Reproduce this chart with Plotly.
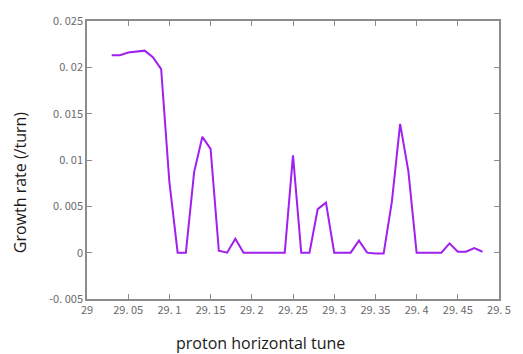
import plotly.graph_objects as go

tune = [29.03, 29.04, 29.05, 29.06, 29.07, 29.08, 29.09, 29.10, 29.11, 29.12,
        29.13, 29.14, 29.15, 29.16, 29.17, 29.18, 29.19, 29.20, 29.21, 29.22,
        29.23, 29.24, 29.25, 29.26, 29.27, 29.28, 29.29, 29.30, 29.31, 29.32,
        29.33, 29.34, 29.35, 29.36, 29.37, 29.38, 29.39, 29.40, 29.41, 29.42,
        29.43, 29.44, 29.45, 29.46, 29.47, 29.48]
growth = [0.0213, 0.0213, 0.0216, 0.0217, 0.0218, 0.0211, 0.0198, 0.0076, 0.0, 0.0,
          0.0087, 0.0125, 0.0112, 0.0002, 0.0, 0.0015, 0.0, 0.0, 0.0, 0.0,
          0.0, 0.0, 0.0105, 0.0, 0.0, 0.0047, 0.0054, 0.0, 0.0, 0.0,
          0.0013, 0.0, -0.0001, -0.0001, 0.0055, 0.0139, 0.0088, 0.0, 0.0, 0.0,
          0.0, 0.0010, 0.0001, 0.0001, 0.0005, 0.0001]

x_ticks = [29.0, 29.05, 29.1, 29.15, 29.2, 29.25, 29.3, 29.35, 29.4, 29.45, 29.5]
x_ticktext = ["29", "29. 05", "29. 1", "29. 15", "29. 2", "29. 25", "29. 3", "29. 35", "29. 4", "29. 45", "29. 5"]
y_ticks = [-0.005, 0.0, 0.005, 0.01, 0.015, 0.02, 0.025]
y_ticktext = ["-0. 005", "0", "0. 005", "0. 01", "0. 015", "0. 02", "0. 025"]

fig = go.Figure()
fig.add_trace(go.Scatter(x=tune, y=growth, mode="lines",
                         line=dict(color="#a020f0", width=2), showlegend=False))

tickfont = dict(family="Noto Sans CJK SC, DejaVu Sans", size=11, color="#6a6a6a")
axis_common = dict(showline=True, linecolor="#8c8c8c", linewidth=1.5, mirror="allticks",
                   ticks="inside", ticklen=5, tickcolor="#8c8c8c", tickwidth=1,
                   showgrid=False, zeroline=False, tickfont=tickfont)

fig.update_xaxes(range=[29.0, 29.5], tickvals=x_ticks, ticktext=x_ticktext, **axis_common)
fig.update_yaxes(range=[-0.005, 0.025], tickvals=y_ticks, ticktext=y_ticktext, **axis_common)

titlefont = dict(family="Open Sans, Noto Sans", size=16, color="#1a1a1a")
fig.update_layout(
    width=523, height=354,
    margin=dict(l=87, r=17, t=16, b=55),
    paper_bgcolor="white", plot_bgcolor="white",
    annotations=[
        dict(text="proton horizontal tune", xref="paper", yref="paper",
             x=(263 - 87) / 419, y=-(344 - 299) / 283, xanchor="center", yanchor="middle",
             showarrow=False, font=titlefont),
        dict(text="Growth rate (/turn)", xref="paper", yref="paper",
             x=-(87 - 19) / 419, y=(299 - 180) / 283, xanchor="center", yanchor="middle",
             textangle=-90, showarrow=False, font=titlefont),
    ],
)

fig.write_html("out.html")
